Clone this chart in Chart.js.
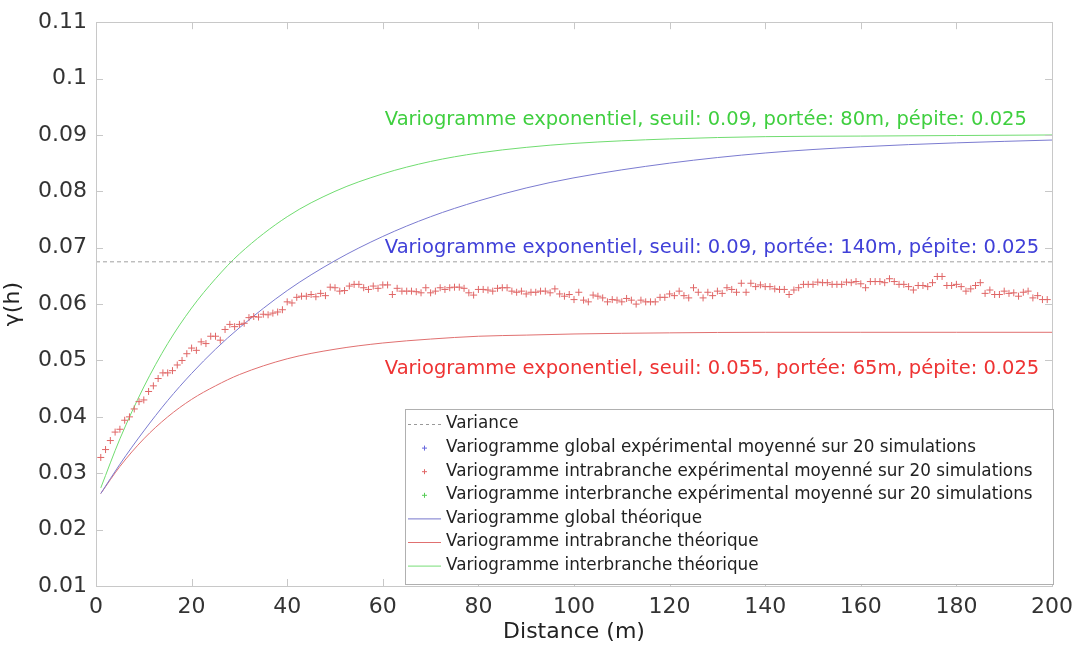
<!DOCTYPE html>
<html>
<head>
<meta charset="utf-8">
<script src="https://cdn.jsdelivr.net/npm/chart.js@4.4.1/dist/chart.umd.min.js"></script>
<style>
  html, body { margin: 0; padding: 0; background: #fff; }
  #wrap { width: 1081px; height: 648px; }
</style>
</head>
<body>
<div id="wrap"><canvas id="vario"></canvas></div>
<script>
// ===== DONNEES =====
// variogramme intrabranche experimental (pas de 1 m, h = 1..199)
const intraExp = [
  0.0328, 0.0342, 0.0358, 0.0373, 0.0378, 0.0394, 0.0400, 0.0414, 0.0427, 0.0430,
  0.0445, 0.0455, 0.0468, 0.0478, 0.0478, 0.0482, 0.0492, 0.0500, 0.0512, 0.0522,
  0.0518, 0.0533, 0.0530, 0.0543, 0.0543, 0.0536, 0.0555, 0.0564, 0.0560, 0.0564,
  0.0566, 0.0576, 0.0578, 0.0577, 0.0582, 0.0581, 0.0584, 0.0586, 0.0590, 0.0604,
  0.0602, 0.0612, 0.0614, 0.0614, 0.0617, 0.0613, 0.0619, 0.0615, 0.0630, 0.0629,
  0.0623, 0.0624, 0.0632, 0.0635, 0.0635, 0.0629, 0.0626, 0.0632, 0.0628, 0.0634,
  0.0634, 0.0617, 0.0628, 0.0623, 0.0623, 0.0623, 0.0622, 0.0620, 0.0629, 0.0620,
  0.0623, 0.0629, 0.0626, 0.0629, 0.0630, 0.0630, 0.0628, 0.0620, 0.0616, 0.0626,
  0.0626, 0.0625, 0.0623, 0.0628, 0.0629, 0.0629, 0.0623, 0.0621, 0.0623, 0.0618,
  0.0621, 0.0621, 0.0623, 0.0623, 0.0620, 0.0627, 0.0618, 0.0614, 0.0617, 0.0608,
  0.0621, 0.0607, 0.0604, 0.0616, 0.0614, 0.0611, 0.0604, 0.0608, 0.0607, 0.0604,
  0.0610, 0.0607, 0.0600, 0.0607, 0.0604, 0.0604, 0.0604, 0.0612, 0.0612, 0.0618,
  0.0615, 0.0623, 0.0615, 0.0611, 0.0629, 0.0621, 0.0611, 0.0621, 0.0615, 0.0623,
  0.0619, 0.0629, 0.0626, 0.0621, 0.0637, 0.0621, 0.0637, 0.0631, 0.0634, 0.0631,
  0.0631, 0.0627, 0.0626, 0.0626, 0.0617, 0.0625, 0.0629, 0.0635, 0.0635, 0.0635,
  0.0639, 0.0638, 0.0638, 0.0635, 0.0635, 0.0635, 0.0639, 0.0638, 0.0640, 0.0636,
  0.0629, 0.0640, 0.0640, 0.0640, 0.0638, 0.0645, 0.0640, 0.0635, 0.0635, 0.0631,
  0.0625, 0.0633, 0.0633, 0.0631, 0.0638, 0.0649, 0.0649, 0.0633, 0.0633, 0.0635,
  0.0631, 0.0623, 0.0627, 0.0633, 0.0638, 0.0619, 0.0625, 0.0617, 0.0617, 0.0623,
  0.0619, 0.0620, 0.0614, 0.0621, 0.0623, 0.0611, 0.0615, 0.0608, 0.0608
];

// courbes theoriques
const distTheo   = [1, 5, 10, 15, 20, 25, 30, 40, 50, 60, 70, 80, 90, 100, 120, 140, 160, 180, 200];
const globalTheo = [0.0264, 0.0316, 0.0375, 0.0429, 0.0477, 0.0520, 0.0558, 0.0624, 0.0677, 0.0720,
                    0.0755, 0.0783, 0.0806, 0.0824, 0.0850, 0.0868, 0.0879, 0.0886, 0.0891];
const intraTheo  = [0.0264, 0.0312, 0.0361, 0.0400, 0.0431, 0.0455, 0.0475, 0.0503, 0.0520, 0.0531,
                    0.0538, 0.0543, 0.0545, 0.0547, 0.0549, 0.0550, 0.0550, 0.0550, 0.0550];
const interTheo  = [0.0274, 0.0361, 0.0453, 0.0530, 0.0593, 0.0645, 0.0689, 0.0755, 0.0800, 0.0831,
                    0.0853, 0.0868, 0.0878, 0.0885, 0.0893, 0.0897, 0.0898, 0.0899, 0.0900];

const variance = 0.0675;
const xTicks = [0, 20, 40, 60, 80, 100, 120, 140, 160, 180, 200];
const yTicks = [0.01, 0.02, 0.03, 0.04, 0.05, 0.06, 0.07, 0.08, 0.09, 0.1, 0.11];

// annotations: [texte, x, y, couleur]
const notes = [
  ['Variogramme exponentiel, seuil: 0.09, portée: 80m, pépite: 0.025', 60, 0.0927, '#3fcf3f'],
  ['Variogramme exponentiel, seuil: 0.09, portée: 140m, pépite: 0.025', 60, 0.0699, '#4040d8'],
  ['Variogramme exponentiel, seuil: 0.055, portée: 65m, pépite: 0.025', 60, 0.0485, '#ee3333']
];

// legende: [texte, type, couleur]
const legendItems = [
  ['Variance', 'dash', '#999999'],
  ['Variogramme global expérimental moyenné sur 20 simulations', 'cross', '#6666dd'],
  ['Variogramme intrabranche expérimental moyenné sur 20 simulations', 'cross', '#e06666'],
  ['Variogramme interbranche expérimental moyenné sur 20 simulations', 'cross', '#55cc55'],
  ['Variogramme global théorique', 'line', '#7777cc'],
  ['Variogramme intrabranche théorique', 'line', '#e07070'],
  ['Variogramme interbranche théorique', 'line', '#77dd77']
];

function pts(xs, ys) {
  return ys.map(function (v, i) { return { x: xs[i], y: v }; });
}
const lagX = intraExp.map(function (v, i) { return i + 1; });

Chart.defaults.font.family = 'DejaVu Sans';
Chart.defaults.color = '#333';

// ticks vers l'interieur + cadre + annotations + legende
const decorPlugin = {
  id: 'decor',
  afterDatasetsDraw: function (chart) {
    const ctx = chart.ctx;
    const a = chart.chartArea;
    const xs = chart.scales.x, ys = chart.scales.y;
    ctx.save();
    ctx.strokeStyle = '#c8c8c8';
    ctx.lineWidth = 1;
    ctx.beginPath();
    xTicks.forEach(function (t) {
      const px = Math.round(xs.getPixelForValue(t)) + 0.5;
      ctx.moveTo(px, a.bottom); ctx.lineTo(px, a.bottom - 7);
      ctx.moveTo(px, a.top); ctx.lineTo(px, a.top + 7);
    });
    yTicks.forEach(function (t) {
      const py = Math.round(ys.getPixelForValue(t)) + 0.5;
      ctx.moveTo(a.left, py); ctx.lineTo(a.left + 7, py);
      ctx.moveTo(a.right, py); ctx.lineTo(a.right - 7, py);
    });
    ctx.stroke();
    ctx.strokeRect(Math.round(a.left) + 0.5, Math.round(a.top) + 0.5,
                   Math.round(a.right - a.left), Math.round(a.bottom - a.top));

    // annotations
    ctx.font = '19.5px "DejaVu Sans"';
    ctx.textAlign = 'left';
    ctx.textBaseline = 'middle';
    notes.forEach(function (n) {
      ctx.fillStyle = n[3];
      ctx.fillText(n[0], xs.getPixelForValue(n[1]) + 2, ys.getPixelForValue(n[2]));
    });

    // legende
    const bx = 405, by = 409, bw = 648, bh = 175;
    ctx.fillStyle = '#fff';
    ctx.fillRect(bx, by, bw, bh);
    ctx.strokeStyle = '#b0b0b0';
    ctx.strokeRect(bx + 0.5, by + 0.5, bw, bh);
    ctx.font = '16.8px "DejaVu Sans"';
    legendItems.forEach(function (it, i) {
      const y = by + 15 + i * 23.6;
      ctx.strokeStyle = it[2];
      ctx.lineWidth = 1;
      if (it[1] === 'dash') {
        ctx.setLineDash([3, 3]);
        ctx.beginPath(); ctx.moveTo(bx + 3, y + 0.5); ctx.lineTo(bx + 36, y + 0.5); ctx.stroke();
        ctx.setLineDash([]);
      } else if (it[1] === 'line') {
        ctx.beginPath(); ctx.moveTo(bx + 3, y + 0.5); ctx.lineTo(bx + 36, y + 0.5); ctx.stroke();
      } else {
        ctx.beginPath();
        ctx.moveTo(bx + 17, y + 0.5); ctx.lineTo(bx + 22, y + 0.5);
        ctx.moveTo(bx + 19.5, y - 2); ctx.lineTo(bx + 19.5, y + 3);
        ctx.stroke();
      }
      ctx.fillStyle = '#222';
      ctx.fillText(it[0], bx + 41, y);
    });
    ctx.restore();
  }
};

new Chart(document.getElementById('vario'), {
  type: 'scatter',
  data: {
    datasets: [
      {
        label: 'Variance',
        data: [{ x: 0, y: variance }, { x: 200, y: variance }],
        showLine: true, borderColor: '#a0a0a0', borderWidth: 1, borderDash: [4, 3],
        pointRadius: 0
      },
      {
        label: 'Variogramme intrabranche expérimental',
        data: pts(lagX, intraExp),
        showLine: false, pointStyle: 'cross', pointRadius: 3.5,
        borderColor: '#e06666', borderWidth: 1, backgroundColor: '#e06666'
      },
      {
        label: 'Variogramme global théorique',
        data: pts(distTheo, globalTheo),
        showLine: true, borderColor: '#7b7bd0', borderWidth: 1,
        cubicInterpolationMode: 'monotone', pointRadius: 0
      },
      {
        label: 'Variogramme intrabranche théorique',
        data: pts(distTheo, intraTheo),
        showLine: true, borderColor: '#e07070', borderWidth: 1,
        cubicInterpolationMode: 'monotone', pointRadius: 0
      },
      {
        label: 'Variogramme interbranche théorique',
        data: pts(distTheo, interTheo),
        showLine: true, borderColor: '#70dc70', borderWidth: 1,
        cubicInterpolationMode: 'monotone', pointRadius: 0
      }
    ]
  },
  options: {
    responsive: true,
    maintainAspectRatio: false,
    animation: false,
    layout: { padding: { top: 20, right: 25, left: 0, bottom: 0 } },
    plugins: {
      legend: { display: false },
      tooltip: { enabled: false }
    },
    scales: {
      x: {
        type: 'linear', min: 0, max: 200,
        afterFit: function (s) { s.height = 62; },
        grid: { display: false, drawTicks: false },
        border: { display: false },
        ticks: { stepSize: 20, padding: 8, font: { size: 22 }, color: '#333', maxRotation: 0 },
        title: { display: true, text: 'Distance (m)', font: { size: 22 }, color: '#222', padding: { top: 0, bottom: 3 } }
      },
      y: {
        type: 'linear', min: 0.01, max: 0.11,
        afterFit: function (s) { s.width = 96; },
        grid: { display: false, drawTicks: false },
        border: { display: false },
        ticks: {
          stepSize: 0.01, padding: 9, font: { size: 22 }, color: '#333',
          callback: function (v) { return String(+v.toFixed(4)); }
        },
        title: { display: true, text: 'γ(h)', font: { size: 22 }, color: '#222', padding: { top: 0, bottom: 0 } }
      }
    }
  },
  plugins: [decorPlugin]
});
</script>
</body>
</html>
